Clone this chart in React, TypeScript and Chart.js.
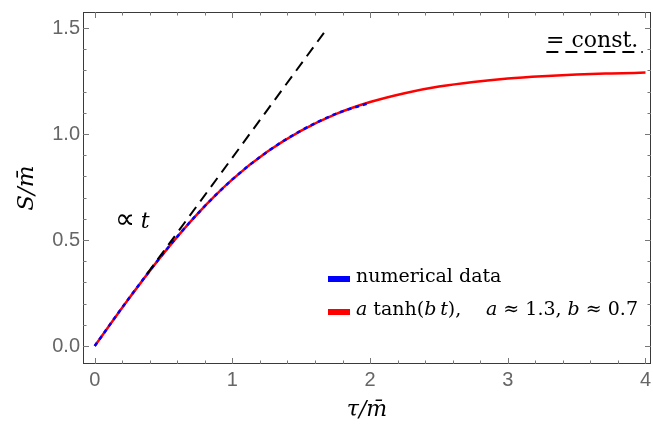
import React, { useEffect, useRef } from "react";
import { Chart, registerables } from "chart.js";

Chart.register(...registerables);

// ---- data ----
const fitTau = [0, 0.25, 0.5, 0.75, 1, 1.25, 1.5, 1.75, 2, 2.25, 2.5, 2.75, 3, 3.25, 3.5, 3.75, 4];
const fitS = [0, 0.225, 0.437, 0.626, 0.786, 0.915, 1.016, 1.094, 1.151, 1.193, 1.224, 1.246, 1.262, 1.273, 1.281, 1.286, 1.29];
const dataTau = [0, 0.25, 0.5, 0.75, 1, 1.25, 1.5, 1.75, 2];
const dataS = [0, 0.226, 0.438, 0.626, 0.786, 0.915, 1.017, 1.095, 1.148];
const slopeTau = [0.38, 1.69];
const slopeS = [0.34, 1.5];
const constTau = [3.28, 3.98];
const constS = [1.387, 1.387];

const xMajor = [0, 1, 2, 3, 4];
const yMajor = [0, 0.5, 1, 1.5];
const xMinor = [0.2, 0.4, 0.6, 0.8, 1.2, 1.4, 1.6, 1.8, 2.2, 2.4, 2.6, 2.8, 3.2, 3.4, 3.6, 3.8];
const yMinor = [0.1, 0.2, 0.3, 0.4, 0.6, 0.7, 0.8, 0.9, 1.1, 1.2, 1.3, 1.4];

const xLabels = ["0", "1", "2", "3", "4"];
const yLabels = ["0.0", "0.5", "1.0", "1.5"];

const SERIF = "'DejaVu Serif', serif";

type Run = [string, boolean, number?, string?]; // text, italic, size override, family override

function drawRuns(ctx: CanvasRenderingContext2D, x: number, y: number, size: number, runs: Run[]) {
  let cx = x;
  ctx.textBaseline = "alphabetic";
  ctx.textAlign = "left";
  for (const [t, it, sz, fam] of runs) {
    ctx.font = `${it ? "italic " : ""}${sz ?? size}px ${fam ?? SERIF}`;
    ctx.fillText(t, cx, y);
    cx += ctx.measureText(t).width;
  }
  return cx;
}

const decorPlugin = {
  id: "decor",
  afterDraw(chart: any) {
    const { ctx, chartArea } = chart;
    const { left, right, top, bottom } = chartArea;
    const xs = chart.scales.x;
    const ys = chart.scales.y;
    ctx.save();
    // frame
    ctx.strokeStyle = "#3a3a3a";
    ctx.lineWidth = 1;
    ctx.strokeRect(left + 0.5, top + 0.5, right - left - 1, bottom - top - 1);
    // ticks
    ctx.strokeStyle = "#777";
    const tick = (vals: number[], len: number) => {
      for (const v of vals) {
        const px = Math.round(xs.getPixelForValue(v)) + 0.5;
        ctx.beginPath();
        ctx.moveTo(px, bottom);
        ctx.lineTo(px, bottom - len);
        ctx.moveTo(px, top);
        ctx.lineTo(px, top + len);
        ctx.stroke();
      }
    };
    const ytick = (vals: number[], len: number) => {
      for (const v of vals) {
        const py = Math.round(ys.getPixelForValue(v)) + 0.5;
        ctx.beginPath();
        ctx.moveTo(left, py);
        ctx.lineTo(left + len, py);
        ctx.moveTo(right, py);
        ctx.lineTo(right - len, py);
        ctx.stroke();
      }
    };
    tick(xMajor, 6);
    tick(xMinor, 3.5);
    ytick(yMajor, 6);
    ytick(yMinor, 3.5);

    // annotations
    ctx.fillStyle = "#000";
    drawRuns(ctx, 115, 228, 22, [["\u221D", false, 28, "'DejaVu Sans', sans-serif"], [" ", false, 18], ["t", true]]);
    drawRuns(ctx, 546, 47, 22, [["= const.", false]]);

    // legend
    ctx.fillStyle = "#0000ff";
    ctx.fillRect(328, 276, 22, 6);
    ctx.fillStyle = "#ff0000";
    ctx.fillRect(328, 309, 22, 6);
    ctx.fillStyle = "#000";
    drawRuns(ctx, 356, 282, 19, [["numerical data", false]]);
    drawRuns(ctx, 356, 315, 19, [["a", true], [" tanh(", false], ["b", true], ["\u2009", false], ["t", true], ["),", false]]);
    drawRuns(ctx, 486, 315, 19, [["a", true], [" \u2248 1.3, ", false], ["b", true], [" \u2248 0.7", false]]);
    ctx.restore();
  },
};

export default function App() {
  const ref = useRef<HTMLCanvasElement | null>(null);
  useEffect(() => {
    document.body.style.margin = "0";
    if (!ref.current) return;
    const pts = (xs: number[], ys: number[]) => xs.map((x, i) => ({ x, y: ys[i] }));
    const chart = new Chart(ref.current, {
      type: "line",
      data: {
        datasets: [
          {
            label: "∝ t",
            data: pts(slopeTau, slopeS),
            borderColor: "#000",
            borderWidth: 2,
            borderDash: [11, 7],
            pointRadius: 0,
          },
          {
            label: "= const.",
            data: pts(constTau, constS),
            borderColor: "#000",
            borderWidth: 2,
            borderDash: [12, 7],
            pointRadius: 0,
          },
          {
            label: "numerical data",
            data: pts(dataTau, dataS),
            borderColor: "#0000ff",
            borderWidth: 2.5,
            borderDash: [4, 4],
            pointRadius: 0,
            cubicInterpolationMode: "monotone",
          },
          {
            label: "a tanh(bt)",
            data: pts(fitTau, fitS),
            borderColor: "#ff0000",
            borderWidth: 2.5,
            pointRadius: 0,
            cubicInterpolationMode: "monotone",
          },
        ],
      },
      options: {
        responsive: false,
        animation: false,
        layout: { padding: { left: 0, top: 12, right: 2, bottom: 0 } },
        plugins: { legend: { display: false }, tooltip: { enabled: false } },
        scales: {
          x: {
            type: "linear",
            min: -0.085,
            max: 4.04,
            grid: { display: false, drawTicks: false },
            border: { display: false },
            afterBuildTicks: (s: any) => {
              s.ticks = xMajor.map((v) => ({ value: v }));
            },
            afterFit: (s: any) => {
              s.height = 65;
              s.paddingLeft = 0;
              s.paddingRight = 0;
            },
            ticks: {
              padding: 4,
              color: "#666",
              font: { family: "'Liberation Sans', Arial, sans-serif", size: 20 },
              callback: (v: any) => xLabels[xMajor.indexOf(Number(v))] ?? "",
            },
            title: {
              display: true,
              text: "τ/m\u0304",
              color: "#000",
              font: { family: SERIF, size: 22, style: "italic" },
              padding: { top: 0, bottom: 6 },
            },
          },
          y: {
            type: "linear",
            min: -0.085,
            max: 1.576,
            grid: { display: false, drawTicks: false },
            border: { display: false },
            afterBuildTicks: (s: any) => {
              s.ticks = yMajor.map((v) => ({ value: v }));
            },
            afterFit: (s: any) => {
              s.width = 83;
              s.paddingTop = 0;
              s.paddingBottom = 0;
            },
            ticks: {
              padding: 3,
              color: "#666",
              font: { family: "'Liberation Sans', Arial, sans-serif", size: 20 },
              callback: (v: any) => yLabels[yMajor.indexOf(Number(v))] ?? "",
            },
            title: {
              display: true,
              text: "S/m\u0304",
              color: "#000",
              font: { family: SERIF, size: 23, style: "italic" },
              padding: { top: 13, bottom: 0 },
            },
          },
        },
      },
      plugins: [decorPlugin],
    } as any);
    return () => chart.destroy();
  }, []);
  return (
    <div style={{ position: "absolute", left: 0, top: 0, width: 653, height: 429, background: "#fff" }}>
      <canvas ref={ref} width={653} height={429} />
    </div>
  );
}
